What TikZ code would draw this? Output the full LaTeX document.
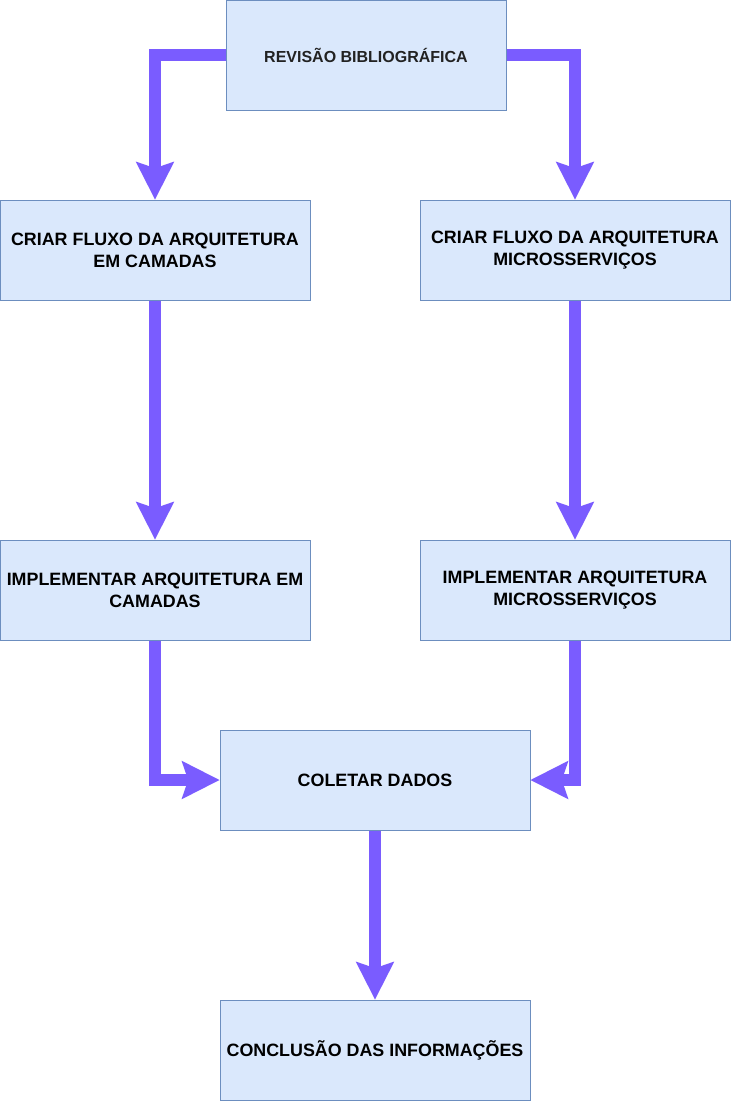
\documentclass[tikz,border=0pt]{standalone}
\usepackage{fontspec}
\setmainfont{Liberation Sans}
\usetikzlibrary{arrows.meta}
\definecolor{boxfill}{HTML}{DAE8FC}
\definecolor{boxline}{HTML}{6C8EBF}
\definecolor{arrowc}{HTML}{7A5CFF}
\definecolor{darktext}{HTML}{222222}
\tikzset{
  x=0.75pt, y=-0.75pt,
  stepbox/.style={draw=boxline, fill=boxfill, line width=0.75pt, inner sep=0pt,
    minimum width=232.5pt, minimum height=75pt, align=center,
    font=\fontsize{13.4pt}{16.3pt}\selectfont\bfseries},
  flow/.style={draw=arrowc, line width=9pt, line join=miter,
    -{Stealth[length=28.5pt, width=29pt, inset=5pt, line width=0pt, round=false]}}
}
\begin{document}
\begin{tikzpicture}
\useasboundingbox (0,0) rectangle (731,1101);
\node[stepbox, minimum width=210pt, minimum height=82.5pt,
  font=\fontsize{12pt}{14pt}\selectfont\bfseries, text=darktext] (rev) at (366,55) {REVISÃO BIBLIOGRÁFICA};
\node[stepbox] (c1) at (155,250) {CRIAR FLUXO DA ARQUITETURA\\EM CAMADAS};
\node[stepbox] (c2) at (575,250) {CRIAR FLUXO DA ARQUITETURA\\MICROSSERVIÇOS};
\node[stepbox] (i1) at (155,590) {IMPLEMENTAR ARQUITETURA EM\\CAMADAS};
\node[stepbox] (i2) at (575,590) {IMPLEMENTAR ARQUITETURA\\MICROSSERVIÇOS};
\node[stepbox] (col) at (375,780) {COLETAR DADOS};
\node[stepbox] (con) at (375,1050) {CONCLUSÃO DAS INFORMAÇÕES};
\draw[flow] (rev.west) -| (c1.north);
\draw[flow] (rev.east) -| (c2.north);
\draw[flow] (c1.south) -- (i1.north);
\draw[flow] (c2.south) -- (i2.north);
\draw[flow] (i1.south) |- (col.west);
\draw[flow] (i2.south) |- (col.east);
\draw[flow] (col.south) -- (con.north);
\end{tikzpicture}
\end{document}
